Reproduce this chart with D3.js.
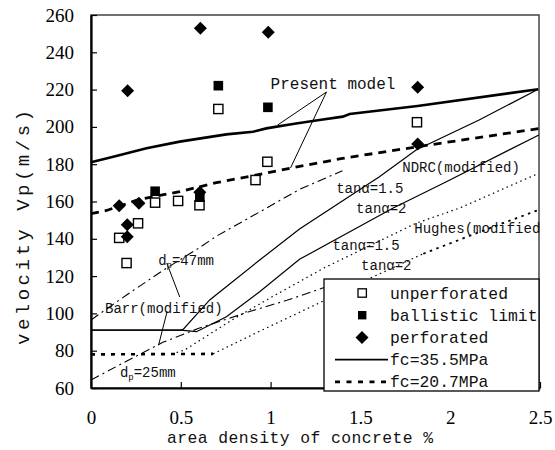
<!DOCTYPE html>
<html>
<head>
<meta charset="utf-8">
<script src="https://cdn.jsdelivr.net/npm/d3@7"></script>
<style>
  body { margin: 0; background: #fff; }
  svg { display: block; }
</style>
</head>
<body>
<div id="chartDiv"></div>
<script>

// ---- data (x = area density %, y = velocity m/s) ----

var unperforated = [[0.157,140.5],[0.198,127],[0.262,148.3],[0.357,159.4],[0.485,160.3],
                    [0.604,158],[0.709,209.6],[0.916,171.5],[0.982,181.3],[1.815,202.5]];
var ballisticLimit = [[0.357,165.5],[0.606,162.3],[0.709,222.1],[0.985,210.5]];
var perforated = [[0.157,157.7],[0.202,147.6],[0.202,141.1],[0.204,219.4],[0.267,159],
                  [0.606,165],[0.609,252.9],[0.987,250.7],[1.819,221.2],[1.819,190.8]];

// Present model
var presentHigh = [[0,181],[0.124,184],[0.309,188.5],[0.494,192.1],[0.754,196],[0.902,197.4],
                   [0.976,199.2],[1.124,201.6],[1.272,203.7],[1.402,205.5],[1.44,206.9],
                   [1.818,211.2],[2.49,220.2]];
var presentLow  = [[0,153.5],[0.087,155.2],[0.263,161],[0.494,165.3],[0.698,170.1],[0.902,173.8],
                   [1.106,177.8],[1.4,183.1],[1.82,189.4],[2.5,199.2]];

// NDRC (modified), fc=35.5
var ndrcTan15 = [[0,91],[0.5,91],[0.513,91.4],[0.661,107.2],[0.939,128.6],[1.161,145.2],
                 [1.606,173.3],[1.81,187.6],[2.161,203.7],[2.49,220.2]];
var ndrcTan2  = [[0,91],[0.5,91],[0.587,90.2],[0.754,98.2],[0.939,111.6],[1.161,129],
                 [1.68,156.4],[1.976,170.5],[2.494,195.7]];

// Hughes (modified), fc=20.7
var hughesFlat  = [[0,78],[0.68,78.3]];
var hughesTan15 = [[0.45,78.2],[0.522,80.4],[0.8,97.4],[0.994,108.1],[1.3,124.5],[1.809,148.3],
                   [2.05,156.4],[2.49,175]];
var hughesTan2a = [[0.68,78.3],[0.94,90.5],[1.28,106],[1.5,116.5],[1.85,132]];
var hughesTan2b = [[1.85,132],[2.2,145],[2.49,155.4]];

// Barr (modified)
var barr47 = [[0,96.5],[0.2,110],[0.4,123],[0.6,135],[0.7,141.5],[0.95,155],[1.161,166.5],[1.4,176.5]];
var barr25 = [[0,64.3],[0.2,74.5],[0.4,84.5],[0.6,92],[0.883,101],[1.09,107],[1.29,113.6],[1.35,115]];

var xTicks = [0, 0.5, 1, 1.5, 2, 2.5];
var yTicks = [60, 80, 100, 120, 140, 160, 180, 200, 220, 240, 260];

var labels = [
	{ t: "Present model",   x: 1.0,   y: 220.3, size: 16 },
	{ t: "NDRC(modified)",  x: 1.733, y: 175.8, size: 14 },
	{ t: "tanα=1.5",        x: 1.365, y: 164.6, size: 14 },
	{ t: "tanα=2",          x: 1.476, y: 153.8, size: 14 },
	{ t: "Hughes(modified", x: 1.8,   y: 143.1, size: 14 },
	{ t: "tanα=1.5",        x: 1.344, y: 134,   size: 14 },
	{ t: "tanα=2",          x: 1.504, y: 123.3, size: 14 },
	{ t: "Barr(modified)",  x: 0.078, y: 100.2, size: 14 }
];
var subLabels = [
	{ t: "47mm", x: 0.374, y: 126 },
	{ t: "25mm", x: 0.161, y: 65.9 }
];
var leaders = [
	[[1.311,218.7],[1.039,201]],
	[[1.311,218.7],[1.111,178]],
	[[0.422,127],[0.494,108.8]],
	[[0.424,101.1],[0.376,82.9]]
];

var legendItems = ["unperforated", "ballistic limit", "perforated", "fc=35.5MPa", "fc=20.7MPa"];

var SERIF = "'Liberation Serif', 'DejaVu Serif', serif";
var MONO  = "'Liberation Mono', 'DejaVu Sans Mono', monospace";

/*---------------------------
| drawChart
-----------------*/

var drawChart = function() {

	var W = 555, H = 450;
	var L = 91, R = 540, T = 15, B = 388;

	var svg = d3.select("#chartDiv").append("svg")
		.attr("width", W)
		.attr("height", H);

	var x = d3.scaleLinear().domain([0, 2.5]).range([L, R]);
	var y = d3.scaleLinear().domain([60, 260]).range([B, T]);

	// frame (top/right a bit lighter)
	svg.append("rect")
		.attr("x", L).attr("y", T)
		.attr("width", R - L - 1).attr("height", B - T)
		.attr("fill", "none")
		.attr("stroke", "#444")
		.attr("stroke-width", 1.5);

	var xAxis = svg.append("g")
		.attr("transform", "translate(0," + B + ")")
		.call(d3.axisBottom(x).tickValues(xTicks).tickSizeInner(-6).tickSizeOuter(0)
			.tickFormat(function(d) { return d; }));
	xAxis.select(".domain").attr("stroke", "#000").attr("stroke-width", 2.2);
	xAxis.selectAll("line").attr("stroke-width", 1.2);
	xAxis.selectAll("text")
		.attr("y", 29).attr("dy", "0.35em")
		.style("font-family", SERIF).style("font-size", "19px").style("fill", "#000");

	var yAxis = svg.append("g")
		.attr("transform", "translate(" + L + ",0)")
		.call(d3.axisLeft(y).tickValues(yTicks).tickSizeInner(-6).tickSizeOuter(0).tickPadding(17));
	yAxis.select(".domain").attr("stroke", "#000").attr("stroke-width", 2.2);
	yAxis.selectAll("line").attr("stroke-width", 1.2);
	yAxis.selectAll("text")
		.style("font-family", SERIF).style("font-size", "19px").style("fill", "#000");

	var line = d3.line()
		.x(function(d) { return x(d[0]); })
		.y(function(d) { return y(d[1]); });

	var addLine = function(data, width, dash) {
		svg.append("path")
			.datum(data)
			.attr("d", line)
			.attr("fill", "none")
			.attr("stroke", "#000")
			.attr("stroke-width", width)
			.attr("stroke-dasharray", dash);
	};

	addLine(barr47, 1.1, "9,4,2,4");
	addLine(barr25, 1.1, "9,4,2,4");
	addLine(hughesTan15, 1.2, "1.5,3.5");
	addLine(hughesTan2a, 1.2, "1.5,3.5");
	addLine(hughesTan2b, 1.8, "2.5,4.5");
	addLine(hughesFlat, 2.6, "4,6");
	addLine(ndrcTan15, 1.2, null);
	addLine(ndrcTan2, 1.2, null);
	addLine(presentHigh, 2.6, null);
	addLine(presentLow, 2.8, "8,6");

	// leader lines
	leaders.forEach(function(seg) {
		addLine(seg, 1, null);
	});

	var monoText = function(sel, size) {
		return sel.style("font-family", MONO).style("font-size", size + "px").style("fill", "#111");
	};

	// annotation texts
	labels.forEach(function(lb) {
		monoText(svg.append("text"), lb.size)
			.attr("x", x(lb.x))
			.attr("y", y(lb.y))
			.text(lb.t);
	});
	subLabels.forEach(function(lb) {
		var t = monoText(svg.append("text"), 14)
			.attr("x", x(lb.x))
			.attr("y", y(lb.y));
		t.append("tspan").text("d");
		t.append("tspan").style("font-size", "9px").attr("dy", 3).text("p");
		t.append("tspan").attr("dy", -3).text("=" + lb.t);
	});

	// markers
	var diamond = "M0,-6.5L6.5,0L0,6.5L-6.5,0Z";

	svg.selectAll(".unp").data(unperforated).enter().append("rect")
		.attr("x", function(d) { return x(d[0]) - 4.6; })
		.attr("y", function(d) { return y(d[1]) - 4.6; })
		.attr("width", 9.2).attr("height", 9.2)
		.attr("fill", "#fff").attr("stroke", "#000").attr("stroke-width", 1.4);

	svg.selectAll(".bal").data(ballisticLimit).enter().append("rect")
		.attr("x", function(d) { return x(d[0]) - 4.8; })
		.attr("y", function(d) { return y(d[1]) - 4.8; })
		.attr("width", 9.6).attr("height", 9.6)
		.attr("fill", "#000");

	svg.selectAll(".perf").data(perforated).enter().append("path")
		.attr("d", diamond)
		.attr("transform", function(d) { return "translate(" + x(d[0]) + "," + y(d[1]) + ")"; })
		.attr("fill", "#000");

	// legend
	var lg = svg.append("g");
	lg.append("rect")
		.attr("x", 324).attr("y", 279)
		.attr("width", 215).attr("height", 112)
		.attr("fill", "#fff").attr("stroke", "#000").attr("stroke-width", 1.3);

	var rowY = function(i) { return 293 + i * 22.2; };

	lg.append("rect").attr("x", 358).attr("y", rowY(0) - 4.2).attr("width", 8.4).attr("height", 8.4)
		.attr("fill", "#fff").attr("stroke", "#000").attr("stroke-width", 1.3);
	lg.append("rect").attr("x", 358).attr("y", rowY(1) - 4.2).attr("width", 8.4).attr("height", 8.4)
		.attr("fill", "#000");
	lg.append("path").attr("d", diamond)
		.attr("transform", "translate(362," + rowY(2) + ")").attr("fill", "#000");
	lg.append("line").attr("x1", 335).attr("x2", 388).attr("y1", rowY(3)).attr("y2", rowY(3))
		.attr("stroke", "#000").attr("stroke-width", 1.6);
	lg.append("line").attr("x1", 335).attr("x2", 388).attr("y1", rowY(4)).attr("y2", rowY(4))
		.attr("stroke", "#000").attr("stroke-width", 2.8).attr("stroke-dasharray", "5,6.5");

	legendItems.forEach(function(t, i) {
		monoText(lg.append("text"), 16.4)
			.attr("x", 390)
			.attr("y", rowY(i) + 5.5)
			.text(t);
	});

	// axis titles
	monoText(svg.append("text"), 16.4)
		.attr("x", 167).attr("y", 443)
		.attr("textLength", 266)
		.attr("lengthAdjust", "spacing")
		.text("area density of concrete  %");

	monoText(svg.append("text"), 19)
		.attr("transform", "translate(29,345) rotate(-90)")
		.attr("textLength", 235)
		.attr("lengthAdjust", "spacing")
		.text("velocity Vp(m/s)");
};

drawChart();
</script>
</body>
</html>
